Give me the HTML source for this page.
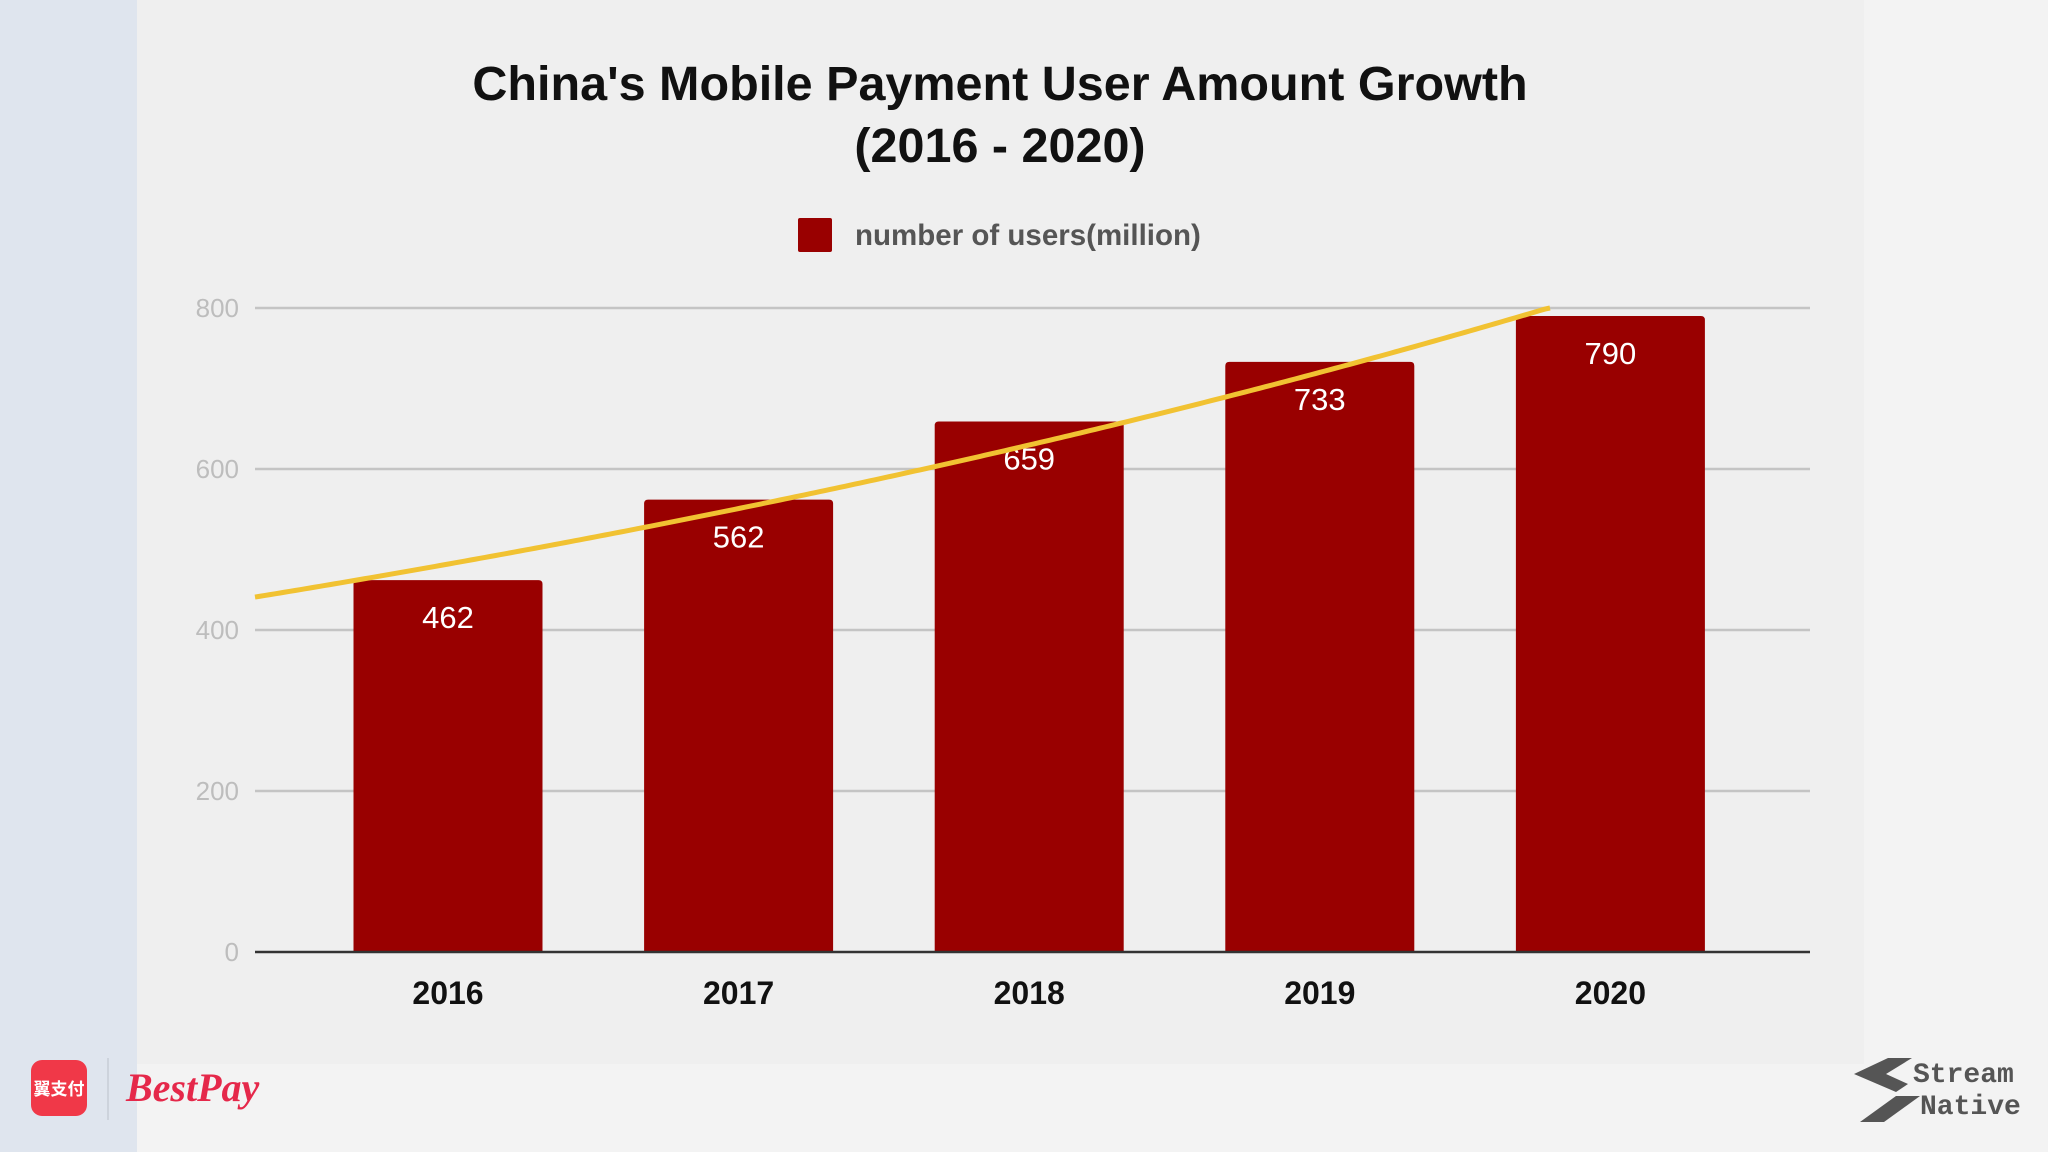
<!DOCTYPE html>
<html><head><meta charset="utf-8">
<style>
html,body{margin:0;padding:0;width:2048px;height:1152px;overflow:hidden;background:#f3f3f3;font-family:"Liberation Sans","Noto Sans CJK SC",sans-serif;}
#root{position:relative;width:2048px;height:1152px;}
</style></head>
<body>
<div id="root">
<div style="position:absolute;left:0;top:0;width:137px;height:1152px;background:#dfe5ee;"></div>
<div style="position:absolute;left:137px;top:0;width:1727px;height:1064px;background:#efefef;"></div>
<svg id="chart" width="2048" height="1152" style="position:absolute;left:0;top:0;" xmlns="http://www.w3.org/2000/svg"></svg>

<div style="position:absolute;left:31px;top:1060px;width:56px;height:56px;border-radius:11px;background:#f03848;color:#fff;font-size:17px;font-weight:bold;line-height:56px;text-align:center;font-family:'Noto Sans CJK SC',sans-serif;">翼支付</div>
<div style="position:absolute;left:107px;top:1058px;width:2px;height:62px;background:#cdd3dc;"></div>
<div style="position:absolute;left:126px;top:1064px;color:#e5284a;font-size:40px;font-weight:bold;font-family:'Liberation Serif',serif;font-style:italic;">BestPay</div>

<svg style="position:absolute;left:1850px;top:1052px;" width="200" height="80">
<polygon points="38,6 62,6 36,22 58,32 46,40 4,22" fill="#555"/>
<polygon points="46,44 70,44 34,70 10,70" fill="#555"/>
<text x="63" y="30" font-family="Liberation Mono, monospace" font-size="28" font-weight="bold" fill="#555">Stream</text>
<text x="70" y="62" font-family="Liberation Mono, monospace" font-size="28" font-weight="bold" fill="#555">Native</text>
</svg>
</div>
<script>
const categories = ["2016","2017","2018","2019","2020"];
const users = [462, 562, 659, 733, 790];
const yTicks = [0, 200, 400, 600, 800];

const svg = document.getElementById('chart');
const NS = 'http://www.w3.org/2000/svg';
const y0 = 952;
function yPos(v){ return y0 - v * (952 - 308) / 800; }
function xCenter(i){ return 448 + i * 290.6; }
function idxFromX(x){ return (x - 448) / 290.6; }
const plotL = 255, plotR = 1810, barW = 189;

function mk(tag, attrs){ const e = document.createElementNS(NS, tag); for (const k in attrs) e.setAttribute(k, attrs[k]); svg.appendChild(e); return e; }

let t = mk('text', {x:1000, y:100, 'text-anchor':'middle', 'font-size':48.5, 'font-weight':'bold', fill:'#111', 'font-family':'Liberation Sans, sans-serif'});
t.textContent = "China's Mobile Payment User Amount Growth";


t = mk('text', {x:1000, y:162, 'text-anchor':'middle', 'font-size':48.5, 'font-weight':'bold', fill:'#111', 'font-family':'Liberation Sans, sans-serif'});
t.textContent = "(2016 - 2020)";



let lg = mk('rect', {x:798, y:218, width:34, height:34, rx:2, fill:'#990000'});


lg = mk('text', {x:855, y:245, 'font-size':29.5, 'font-weight':'bold', fill:'#555', 'font-family':'Liberation Sans, sans-serif'});
lg.textContent = 'number of users(million)';



yTicks.forEach(v => {
  const y = yPos(v);
  if (v !== 0) {
    const g = mk('line', {x1:plotL, x2:plotR, y1:y, y2:y, stroke:'#c4c4c4', 'stroke-width':2.5});
    
    
  }
  const l = mk('text', {x:239, y:y+9, 'text-anchor':'end', 'font-size':26, fill:'#bdbdbd', 'font-family':'Liberation Sans, sans-serif'});
  l.textContent = v;
  
  
});

users.forEach((v, i) => {
  const cx = xCenter(i), top = yPos(v);
  const b = mk('path', {d:`M${cx-barW/2},${y0} V${top+4} Q${cx-barW/2},${top} ${cx-barW/2+4},${top} H${cx+barW/2-4} Q${cx+barW/2},${top} ${cx+barW/2},${top+4} V${y0} Z`, fill:'#990000'});
  
  
  const vl = mk('text', {x:cx, y:top+48, 'text-anchor':'middle', 'font-size':31, fill:'#fff', 'font-family':'Liberation Sans, sans-serif'});
  vl.textContent = v;
  
  
  const xl = mk('text', {x:cx, y:1004, 'text-anchor':'middle', 'font-size':32, 'font-weight':'bold', fill:'#111', 'font-family':'Liberation Sans, sans-serif'});
  xl.textContent = categories[i];
  
  
});

const base = mk('line', {x1:plotL, x2:plotR, y1:y0, y2:y0, stroke:'#333', 'stroke-width':2.5});



const n = users.length;
const lx = users.map((_, i) => i), ly = users.map(v => Math.log(v));
const mx = lx.reduce((a,b)=>a+b)/n, my = ly.reduce((a,b)=>a+b)/n;
let sxy = 0, sxx = 0;
for (let i = 0; i < n; i++){ sxy += (lx[i]-mx)*(ly[i]-my); sxx += (lx[i]-mx)**2; }
const slope = sxy / sxx, icp = my - slope * mx;
let pts = [];
for (let x = plotL; x <= plotR; x += 5) {
  const v = Math.exp(icp + slope * idxFromX(x));
  if (v > 800) { pts.push([x, yPos(800)]); break; }
  pts.push([x, yPos(v)]);
}
const tr = mk('polyline', {points: pts.map(p => p.join(',')).join(' '), fill:'none', stroke:'#f1c232', 'stroke-width':5});


</script>
</body></html>
